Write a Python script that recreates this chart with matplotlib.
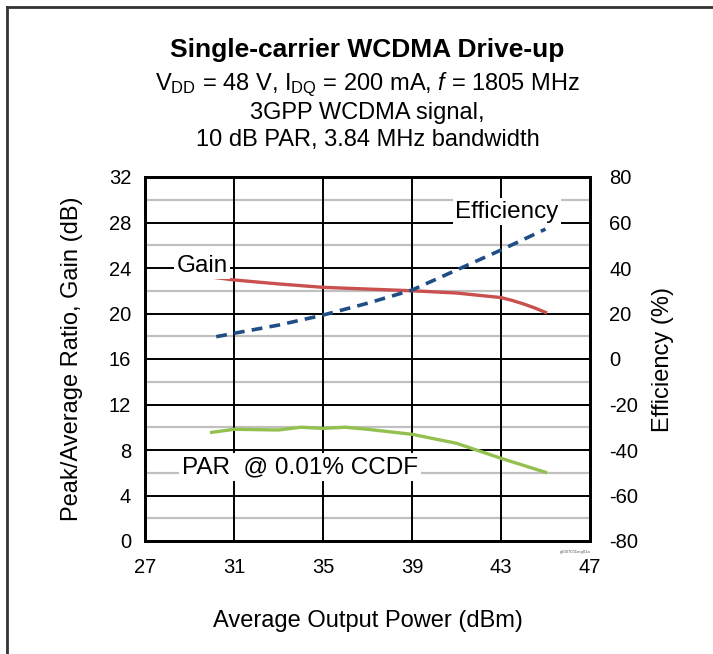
import matplotlib
matplotlib.use("Agg")
import matplotlib.pyplot as plt
import numpy as np

plt.rcParams['font.family'] = ['Liberation Sans', 'DejaVu Sans']
plt.rcParams['mathtext.fontset'] = 'custom'
plt.rcParams['mathtext.rm'] = 'Liberation Sans'
plt.rcParams['mathtext.it'] = 'Liberation Sans:italic'
plt.rcParams['axes.unicode_minus'] = False

# data
gain_pout = [30, 31, 33, 35, 37, 39, 41, 43, 43.5, 44, 44.5, 45]
gain_db = [23.2, 22.95, 22.6, 22.3, 22.15, 22.0, 21.8, 21.4, 21.15, 20.85, 20.5, 20.1]

eff_pout = [30.2, 31, 33, 35, 37, 39, 41, 43, 45]
eff_pct = [9.8, 11.3, 14.9, 19.3, 24.5, 30.3, 39.1, 47.9, 57.1]

par_pout = [30, 31, 33, 34, 35, 36, 37, 39, 41, 43, 45]
par_db = [9.55, 9.82, 9.76, 10.0, 9.9, 10.0, 9.82, 9.38, 8.59, 7.27, 6.04]

x_ticks = [27, 31, 35, 39, 43, 47]
left_ticks = [0, 4, 8, 12, 16, 20, 24, 28, 32]
right_ticks = [-80, -60, -40, -20, 0, 20, 40, 60, 80]

fig = plt.figure(figsize=(7.13, 6.54), dpi=100)
ax = fig.add_axes([145/713, 1 - 541/654, 445/713, 364/654])
ax2 = ax.twinx()

# grid
for y in range(2, 32, 4):
    ax.axhline(y, color='#c0c0c0', lw=1.6, zorder=0)
for y in range(4, 32, 4):
    ax.axhline(y, color='black', lw=1.4, zorder=1)
for x in x_ticks[1:-1]:
    ax.axvline(x, color='black', lw=1.4, zorder=1)

ax.plot(gain_pout, gain_db, color='#c9504f', lw=2.4, zorder=3)
ax.plot(par_pout, par_db, color='#93c150', lw=2.4, zorder=3)
ax2.plot(eff_pout, eff_pct, color='#1f4e85', lw=2.6, ls=(0, (3, 2)), zorder=3)

ax.set_xlim(27, 47)
ax.set_ylim(0, 32)
ax2.set_ylim(-80, 80)
ax.set_xticks(x_ticks)
ax.set_yticks(left_ticks)
ax2.set_yticks(right_ticks)
ax.tick_params(length=0, labelsize=14.5, pad=10)
ax.tick_params(axis='x', pad=12)
ax2.tick_params(length=0, labelsize=14.5, pad=14)
for sp in list(ax.spines.values()) + list(ax2.spines.values()):
    sp.set_linewidth(2)

ax.set_xlabel('Average Output Power (dBm)', fontsize=17)
ax.set_ylabel('Peak/Average Ratio, Gain (dB)', fontsize=17)
ax2.set_ylabel('Efficiency (%)', fontsize=17)
ax.xaxis.set_label_coords(0.5, -0.19)
ax.yaxis.set_label_coords(-0.139, 0.5)
ax2.yaxis.set_label_coords(1.139, 0.5)

box = dict(facecolor='white', edgecolor='none', pad=2)
ax.text(43.27, 28.95, 'Efficiency', fontsize=17.5, ha='center', va='center', bbox=box, zorder=4)
ax.text(29.56, 24.2, 'Gain', fontsize=17.5, ha='center', va='center', bbox=box, zorder=4)
ax.text(33.97, 6.5, 'PAR  @ 0.01% CCDF', fontsize=17.5, ha='center', va='center', bbox=box, zorder=4)

ax.text(1.0, -0.025, 'g2007001erg01a', transform=ax.transAxes, fontsize=3,
        ha='right', va='top', color='#555555')

fig.text(0.5155, 1 - 50/654, 'Single-carrier WCDMA Drive-up', fontsize=19,
         fontweight='bold', ha='center', va='center')
fig.text(0.5155, 1 - 85/654,
         r'V$_{\mathregular{DD}}$ = 48 V, I$_{\mathregular{DQ}}$ = 200 mA, $\it{f}$ = 1805 MHz',
         fontsize=17, ha='center', va='center')
fig.text(0.5155, 1 - 113/654, '3GPP WCDMA signal,', fontsize=17, ha='center', va='center')
fig.text(0.5155, 1 - 140/654, '10 dB PAR, 3.84 MHz bandwidth', fontsize=17,
         ha='center', va='center')

# outer frame (left and top only)
fig.add_artist(plt.Line2D([7/713, 7/713], [0, 1 - 7/654], color='#333333', lw=2,
                          transform=fig.transFigure))
fig.add_artist(plt.Line2D([7/713, 1], [1 - 7/654, 1 - 7/654], color='#333333', lw=2,
                          transform=fig.transFigure))

fig.savefig('out.png', dpi=100)
